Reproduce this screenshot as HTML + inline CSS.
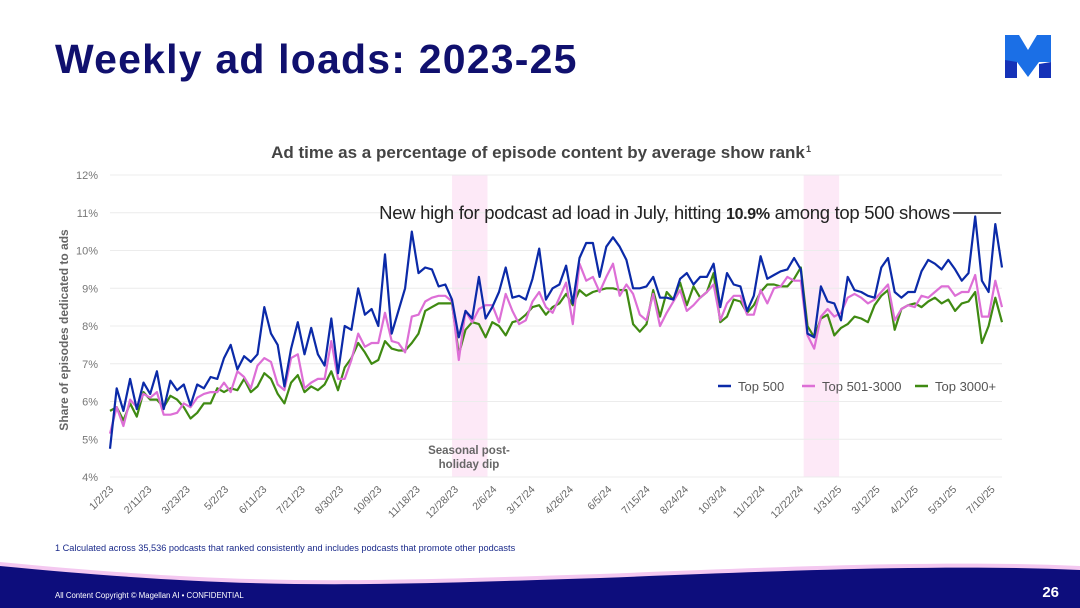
<!DOCTYPE html>
<html><head><meta charset="utf-8">
<style>
body{margin:0;width:1080px;height:608px;overflow:hidden;background:#fff;font-family:"Liberation Sans",sans-serif;position:relative}
#title{position:absolute;left:55px;top:36px;font-size:41px;font-weight:bold;color:#10106e;letter-spacing:1.2px;margin:0}
svg{position:absolute;left:0;top:0}
</style></head><body>
<h1 id="title">Weekly ad loads: 2023-25</h1>
<svg id="chart" width="1080" height="608"></svg>
<script>
const top500=[4.75,6.35,5.75,6.6,5.8,6.5,6.2,6.8,5.8,6.55,6.3,6.45,5.9,6.45,6.35,6.65,6.6,7.15,7.5,6.85,7.2,7.05,7.25,8.5,7.8,7.5,6.4,7.4,8.1,7.25,7.95,7.25,6.95,8.2,6.75,8.0,7.9,9.0,8.3,8.45,8.0,9.9,7.8,8.4,
9.0,10.5,9.4,9.55,9.5,9.05,9.1,8.7,7.7,8.4,8.2,9.3,8.2,8.5,8.9,9.55,8.75,8.8,8.7,9.25,10.05,8.7,9.0,9.1,9.6,8.6,9.8,10.2,10.2,9.3,10.1,10.35,10.1,9.75,9.0,9.0,9.05,9.3,8.75,8.75,8.7,9.25,9.4,9.1,9.3,9.3,9.65,
8.5,9.4,9.1,9.05,8.4,8.8,9.85,9.25,9.35,9.45,9.5,9.8,9.5,7.8,7.7,9.05,8.65,8.6,8.15,9.3,8.95,8.9,8.8,8.75,9.55,9.8,8.9,8.75,8.9,8.9,9.45,9.75,9.65,9.5,9.75,9.5,9.2,9.4,10.9,9.2,8.9,10.7,9.55];
const top501_3000=[5.15,5.85,5.35,6.05,5.85,6.2,6.1,6.25,5.65,5.65,5.7,5.95,5.85,6.1,6.2,6.25,6.25,6.5,6.25,6.8,6.65,6.35,6.95,7.15,7.05,6.45,6.3,7.15,7.25,6.35,6.5,6.6,6.6,7.6,6.6,6.6,7.1,7.8,7.45,7.55,7.55,8.35,7.6,7.55,
7.3,8.25,8.3,8.65,8.75,8.8,8.8,8.65,7.1,8.4,8.1,8.45,8.55,8.55,8.1,8.85,8.4,8.05,8.15,8.65,8.9,8.5,8.35,8.75,9.15,8.05,9.65,9.2,9.3,8.9,9.3,9.65,8.8,9.1,8.85,8.3,8.15,8.85,8.0,8.35,8.65,8.95,8.4,8.55,8.75,8.9,9.1,
8.15,8.6,8.8,8.8,8.3,8.3,8.95,8.6,9.0,9.05,9.3,9.2,9.2,7.75,7.4,8.25,8.45,8.25,8.35,8.75,8.85,8.75,8.6,8.7,8.9,9.1,8.15,8.45,8.55,8.5,8.8,8.75,8.9,9.05,9.05,8.8,8.9,8.9,9.35,8.25,8.25,9.2,8.5];
const top3000plus=[5.75,5.85,5.5,5.95,5.6,6.25,6.05,6.05,5.85,6.15,6.05,5.85,5.55,5.7,5.95,5.95,6.35,6.25,6.35,6.3,6.6,6.25,6.4,6.75,6.6,6.2,5.95,6.5,6.7,6.25,6.4,6.3,6.45,6.8,6.3,6.9,7.15,7.55,7.3,7.0,7.1,7.6,7.4,7.35,
7.35,7.55,7.8,8.4,8.5,8.6,8.6,8.6,7.25,7.9,8.1,8.05,7.7,8.1,8.0,7.75,8.1,8.15,8.3,8.5,8.55,8.3,8.5,8.6,8.85,8.55,8.95,8.8,8.9,8.95,9.0,9.0,8.95,8.95,8.05,7.85,8.05,8.95,8.25,8.9,8.7,9.15,8.55,9.05,8.75,8.9,9.4,
8.1,8.25,8.7,8.65,8.35,8.55,8.9,9.1,9.1,9.05,9.05,9.25,9.55,8.0,7.7,8.2,8.3,7.75,7.95,8.05,8.25,8.2,8.1,8.55,8.8,8.95,7.9,8.45,8.55,8.6,8.5,8.65,8.75,8.6,8.7,8.4,8.6,8.65,8.9,7.55,8.0,8.75,8.1];
const yTicks=[4,5,6,7,8,9,10,11,12];
const xTickLabels=["1/2/23","2/11/23","3/23/23","5/2/23","6/11/23","7/21/23","8/30/23","10/9/23","11/18/23","12/28/23","2/6/24","3/17/24","4/26/24","6/5/24","7/15/24","8/24/24","10/3/24","11/12/24","12/22/24","1/31/25","3/12/25","4/21/25","5/31/25","7/10/25"];
const xTickDays=[0,40,80,120,160,200,240,280,320,360,400,440,480,520,560,600,640,680,720,760,800,840,880,920];
const bandDays=[[357,394],[724,761]];

const NS="http://www.w3.org/2000/svg";
const svg=document.getElementById('chart');
const X0=110,X1=1002,Y0=477,Y1=175;
const totalDays=(top500.length-1)*7;
const xDay=d=>X0+d*(X1-X0)/totalDays;
const xI=i=>xDay(i*7);
const y=v=>Y0-(v-4)*(Y0-Y1)/8;
function mk(tag,attrs,txt){const e=document.createElementNS(NS,tag);for(const k in attrs)e.setAttribute(k,attrs[k]);if(txt!==undefined)e.textContent=txt;svg.appendChild(e);return e;}

let f=mk('path',{d:"M0,562 C250,586 350,582 600,574 C800,566 950,560 1080,566 L1080,608 L0,608 Z",fill:"#f4c8f0"});


f=mk('path',{d:"M0,566 C250,590 350,586 600,578 C800,570 950,564 1080,570 L1080,608 L0,608 Z",fill:"#0d0d7c"});


let t=mk('text',{x:55,y:598,"font-size":"7.8",fill:"#fff"},"All Content Copyright © Magellan AI • CONFIDENTIAL");


t=mk('text',{x:1059,y:597,"font-size":"15","font-weight":"bold",fill:"#fff","text-anchor":"end"},"26");


t=mk('text',{x:55,y:551,"font-size":"9.2",fill:"#1a2a8a"},"1 Calculated across 35,536 podcasts that ranked consistently and includes podcasts that promote other podcasts");



let g=mk('polygon',{points:"1005,35 1019,35 1028,50 1037,35 1051,35 1051,62 1039,62 1028,77 1017,62 1005,62",fill:"#1b6fe6"});


g=mk('polygon',{points:"1005,60 1017,62 1017,78 1005,78",fill:"#1532b8"});


g=mk('polygon',{points:"1039,64 1051,62 1051,78 1039,78",fill:"#1532b8"});



t=mk('text',{x:538,y:158,"font-size":"17","font-weight":"bold",fill:"#444","text-anchor":"middle"},"Ad time as a percentage of episode content by average show rank");


t=mk('text',{x:806,y:152,"font-size":"9","font-weight":"bold",fill:"#444"},"1");



bandDays.forEach(b=>{
 const r=mk('rect',{x:xDay(b[0]),y:Y1,width:xDay(b[1])-xDay(b[0]),height:Y0-Y1,fill:"#fde9f7"});
 
 
});

yTicks.forEach(v=>{
 const l=mk('line',{x1:X0,x2:X1,y1:y(v),y2:y(v),stroke:"#ececec","stroke-width":1});
 
 
 const tt=mk('text',{x:98,y:y(v)+4,"font-size":"11",fill:"#777","text-anchor":"end"},v+"%");
 
 
});
t=mk('text',{x:0,y:0,"font-size":"12","font-weight":"bold",fill:"#666","text-anchor":"middle",transform:"translate(68,330) rotate(-90)"},"Share of episodes dedicated to ads");



xTickLabels.forEach((s,i)=>{
 const x=xDay(xTickDays[i]);
 const tt=mk('text',{x:0,y:0,"font-size":"10.5",fill:"#666","text-anchor":"end",transform:`translate(${x+4},${490}) rotate(-45)`},s);
 
 
});

function line(data,color,name){
 const p=mk('polyline',{points:data.map((v,i)=>xI(i).toFixed(1)+","+y(v).toFixed(1)).join(" "),fill:"none",stroke:color,"stroke-width":2.2,"stroke-linejoin":"round"});
 
 
}
line(top3000plus,"#3f8a12","line-top-3000-plus");
line(top501_3000,"#dd6fd6","line-top-501-3000");
line(top500,"#0b2aa8","line-top-500");

t=mk('text',{x:950,y:219,"font-size":"18.5",fill:"#222","text-anchor":"end","letter-spacing":"-0.3"});


t.innerHTML='New high for podcast ad load in July, hitting <tspan font-weight="bold" font-size="16">10.9%</tspan> among top 500 shows';
let al=mk('line',{x1:953,x2:1001,y1:213,y2:213,stroke:"#222","stroke-width":1.5});


t=mk('text',{x:469,y:454,"font-size":"11.5","font-weight":"bold",fill:"#666","text-anchor":"middle"},"Seasonal post-");


t=mk('text',{x:469,y:468,"font-size":"11.5","font-weight":"bold",fill:"#666","text-anchor":"middle"},"holiday dip");



[["Top 500","#0b2aa8",718],["Top 501-3000","#dd6fd6",802],["Top 3000+","#3f8a12",915]].forEach(d=>{
 const l=mk('line',{x1:d[2],x2:d[2]+13,y1:386,y2:386,stroke:d[1],"stroke-width":2.5});
 
 
 const tt=mk('text',{x:d[2]+20,y:391,"font-size":"13",fill:"#555"},d[0]);
 
 
});
</script>
</body></html>
